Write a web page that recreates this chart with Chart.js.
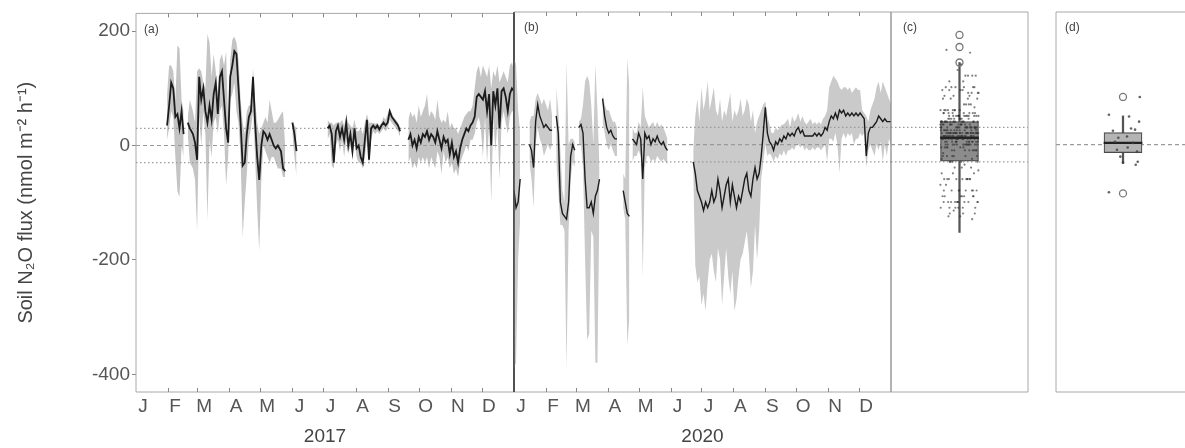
<!DOCTYPE html>
<html>
<head>
<meta charset="utf-8">
<script src="https://cdn.jsdelivr.net/npm/chart.js@4.4.1/dist/chart.umd.min.js"></script>
<style>
html, body { margin: 0; padding: 0; background: #fff; }
body { width: 1185px; height: 448px; position: relative; overflow: hidden; }
canvas { position: absolute; top: 0; }
</style>
</head>
<body>
<canvas id="chartA" width="530" height="448" style="left:0px"></canvas>
<canvas id="chartB" width="417" height="448" style="left:494px"></canvas>
<canvas id="chartC" width="177" height="448" style="left:871px"></canvas>
<canvas id="chartD" width="174" height="448" style="left:1036px"></canvas>
<script>
// axis labels
const months = ['J', 'F', 'M', 'A', 'M', 'J', 'J', 'A', 'S', 'O', 'N', 'D'];
const monthStart2017 = [0, 31, 59, 90, 120, 151, 181, 212, 243, 273, 304, 334];
const monthStart2020 = [0, 31, 60, 91, 121, 152, 182, 213, 244, 274, 305, 335];
const yTicks = [-400, -200, 0, 200];
const refLines = [-30, 0, 30];

// (a) 2017 daily flux: day of year, mean, lower and upper bound (null = no data)
const aDay = [
  30, 32, 34, 36, 38, 40, 42, 44, 46, 48,
  50, 52, 55, 57, 59, 61, 63, 65, 67, 69,
  71, 73, 75, 77, 79, 81, 83, 85, 87, 89,
  91, 93, 95, 97, 99, 101, 103, 105, 107, 109,
  111, 113, 115, 117, 119, 121, 123, 125, 127, 129,
  131, 133, 135, 137, 140, 142, 144, 147, 151, 153,
  155, 170, 185, 187, 189, 191, 193, 195, 197, 199,
  201, 203, 205, 207, 209, 211, 213, 215, 217, 219,
  221, 223, 225, 227, 229, 231, 233, 235, 237, 239,
  241, 243, 245, 247, 249, 251, 253, 255, 258, 263,
  265, 267, 269, 271, 273, 275, 277, 279, 281, 283,
  285, 287, 289, 291, 293, 295, 297, 299, 301, 303,
  305, 307, 309, 311, 313, 315, 317, 319, 321, 323,
  325, 327, 329, 331, 333, 335, 337, 339, 341, 343,
  345, 347, 349, 351, 353, 355, 357, 359, 361, 363,
  365
];
const aMean = [
  35, 70, 110, 100, 50, 55, 30, 60, 20, null,
  40, 30, 20, 5, -25, 120, 80, 100, 60, 40,
  70, 45, 90, 110, 55, 120, 130, 80, 30, 5,
  120, 140, 165, 160, 100, 40, -35, -30, 20, 50,
  60, 120, 40, -20, -60, 0, 25, 20, 10, 20,
  10, 0, -5, 0, -10, -40, -45, null, 40, 20,
  -10, null, 30, 35, 20, -30, 25, 35, 15, 30,
  10, 40, 0, 20, -10, 30, -5, 0, -20, -30,
  10, 45, -25, 30, 35, 30, 35, 28, 35, 40,
  35, 40, 60, 50, 45, 40, 35, 25, null, 10,
  20, 0, 10, -5, 15, 5, 20, 15, 25, 10,
  20, 15, 5, 25, 10, -5, 15, 5, 10, -15,
  5, -20, -10, -30, -5, 10, 20, 30, 25, 35,
  40, 50, 85, 90, 85, 80, 95, 60, 90, 0,
  95, 70, 100, 30, 95, 100, 85, 60, 90, 100,
  95
];
const aLo = [
  10, 30, 60, 50, -20, -80, -90, 0, -20, null,
  20, -30, -40, -60, -150, 50, 0, 60, 20, -130,
  10, -20, 40, 50, 20, 60, 70, 20, -70, -20,
  80, 90, 110, 60, 40, -20, -160, -100, -50, 10,
  30, 60, -20, -110, -185, -60, 0, -10, -20, -30,
  -20, -20, -30, -40, -40, -55, -55, null, 20, -20,
  -55, null, 10, 20, -35, -40, 0, 10, -10, 10,
  -20, 10, -15, 0, -20, 10, -20, -30, -30, -40,
  -20, 10, -35, 10, 25, 20, 25, 20, 25, 30,
  25, 30, 45, 40, 35, 30, 25, 15, null, -30,
  -20, -40, -30, -40, -20, -30, -20, -30, -20, -40,
  -20, -30, -40, -10, -20, -50, -10, -30, -20, -40,
  -30, -50, -40, -55, -30, -20, -10, 0, -10, 10,
  10, 20, 40, 50, 30, -20, 50, -30, 40, -100,
  50, -10, 40, -60, 40, 60, 40, 20, 50, 60,
  60
];
const aHi = [
  90, 140, 140, 130, 80, 175, 170, 80, 60, null,
  50, 80, 60, 40, 130, 135, 130, 110, 100, 195,
  180, 120, 160, 130, 90, 150, 160, 140, 165, 40,
  150, 185, 190, 180, 150, 80, 40, 20, 60, 70,
  70, 135, 80, 40, 20, 30, 40, 50, 40, 80,
  60, 40, 40, 45, 55, 60, 0, null, 45, 35,
  30, null, 45, 40, 40, 35, 40, 40, 40, 45,
  35, 50, 40, 35, 30, 45, 25, 25, 30, 20,
  40, 55, 40, 40, 40, 38, 40, 35, 40, 50,
  45, 55, 65, 55, 50, 45, 40, 30, null, 45,
  60, 50, 55, 40, 70, 50, 60, 70, 90, 50,
  60, 55, 45, 80, 50, 40, 45, 40, 60, 30,
  40, 30, 30, 20, 30, 40, 50, 55, 60, 60,
  70, 100, 130, 140, 120, 140, 130, 120, 140, 100,
  130, 120, 140, 110, 120, 130, 120, 110, 140, 145,
  130
];

// (b) 2020 daily flux
const bDay = [
  0, 2, 4, 6, 10, 15, 17, 19, 21, 23,
  25, 27, 29, 31, 33, 35, 37, 39, 41, 43,
  45, 47, 49, 51, 53, 55, 57, 59, 61, 63,
  65, 67, 69, 71, 73, 75, 77, 79, 81, 83,
  84.5, 86, 88, 90, 92, 94, 96, 98, 100, 103,
  106, 108, 110, 112, 113.5, 115, 117, 119, 121, 123,
  125, 127, 129, 131, 133, 135, 137, 139, 141, 143,
  145, 147, 149, 160, 174, 176, 178, 180, 182, 184,
  186, 188, 190, 192, 194, 196, 198, 200, 202, 204,
  206, 208, 210, 212, 214, 216, 218, 220, 222, 224,
  226, 228, 230, 232, 234, 236, 238, 240, 242, 244,
  246, 248, 250, 252, 254, 256, 258, 260, 262, 264,
  266, 268, 270, 272, 274, 276, 278, 280, 282, 284,
  286, 288, 290, 292, 294, 296, 298, 300, 302, 304,
  306, 308, 310, 312, 314, 316, 318, 320, 322, 324,
  326, 328, 330, 332, 334, 336, 338, 340, 342, 344,
  346, 348, 350, 352, 354, 356, 358, 360, 362, 364,
  366
];
const bMean = [
  -80, -110, -100, -60, null, 0, -10, -40, 40, 70,
  50, 40, 30, 35, 30, 25, 25, null, 50, 20,
  -100, -120, -125, -130, -100, -20, 0, -10, null, 30,
  35, 20, -60, -110, -110, -100, -120, -90, -80, -60,
  null, 80, 50, 30, 20, 25, 15, 10, 10, null,
  -80, -100, -120, -125, null, 10, 5, 0, 20, 10,
  -60, 20, 10, 15, 0, 10, 5, 15, 5, 0,
  5, -5, -10, null, -30, -50, -80, -90, -100, -115,
  -100, -110, -100, -80, -100, -90, -60, -80, -110, -90,
  -70, -60, -100, -70, -90, -110, -90, -100, -80, -60,
  -50, -80, -90, -60, -40, -60, -50, -20, 20, 65,
  20, 5, 0, -10, 5, 0, 10, 5, 15, 10,
  20, 15, 20, 15, 25, 30, 20, 25, 15, 15,
  15, 15, 15, 20, 15, 20, 15, 20, 30, 25,
  40, 50, 45, 55, 45, 60, 55, 60, 50, 55,
  50, 55, 50, 55, 50, 55, 50, 45, -20, 20,
  30, 30, 35, 40, 50, 45, 40, 45, 40, 40,
  40
];
const bLo = [
  -390, -380, -200, -130, null, -30, -60, -110, 0, 30,
  10, 0, -20, -10, 0, -10, 0, null, -30, -80,
  -140, -140, -150, -390, -150, -60, -30, -40, null, 0,
  0, -40, -200, -340, -330, -150, -160, -380, -380, -100,
  null, 40, 20, 0, -10, 0, -10, -20, -20, null,
  -110, -130, -350, -300, null, -30, -20, -20, -10, -20,
  -230, -40, -20, -20, -30, -25, -30, -20, -25, -30,
  -25, -30, -35, null, -50, -210, -240, -230, -280, -260,
  -290, -240, -200, -190, -220, -240, -180, -200, -280, -230,
  -180, -230, -260, -220, -290, -270, -230, -200, -190, -170,
  -150, -190, -250, -220, -140, -200, -150, -60, -30, 0,
  -20, -15, -20, -30, -20, -25, -15, -20, -10, -20,
  -10, -10, -5, -10, 0, 0, -5, 0, -10, -5,
  -10, -10, -5, -10, -5, -5, -10, -5, 0, -30,
  10, 10, 5, 20, 0, -50, 10, 20, 10, 20,
  15, 20, 0, 10, 10, 20, 15, 20, -40, -10,
  0, -10, -20, 0, -10, 5, -30, 0, -20, 10,
  0
];
const bHi = [
  150, 140, 60, 20, null, 40, 50, 50, 80, 90,
  80, 70, 80, 70, 60, 80, 50, null, 100, 60,
  -10, -80, -100, 145, 0, 10, 10, 5, null, 40,
  45, 70, 110, 120, 110, 70, 0, 140, 60, -40,
  null, 90, 70, 60, 60, 50, 40, 40, 30, null,
  -50, -60, 150, 100, null, 30, 20, 20, 40, 30,
  100, 50, 40, 30, 35, 40, 30, 40, 30, 35,
  30, 20, 10, null, -10, 50, 80, 40, 100, 60,
  80, 110, 60, 80, 100, 60, 50, 80, 40, 60,
  50, 70, 90, 40, 60, 50, 60, 80, 50, 60,
  80, 70, 40, 60, 20, 40, 50, 60, 70, 75,
  50, 35, 20, 20, 30, 25, 30, 35, 35, 40,
  45, 30, 50, 40, 45, 55, 40, 50, 40, 35,
  40, 45, 35, 40, 35, 40, 35, 45, 50, 60,
  100, 110, 120, 115, 110, 100, 95, 100, 100, 95,
  100, 90, 95, 100, 95, 95, 60, 55, 50, 40,
  60, 70, 80, 100, 110, 90, 110, 100, 90, 80,
  70
];

// (c) box summary of all fluxes: low whisker, q1, median, q3, high whisker, outliers
const cBox = [-153, -29, 12, 40, 143];
const cOutliers = [143, 170, 191];

// (d) box summary, its points (value, horizontal offset) and outliers
const dBox = [-33, -14, 3, 21, 50];
const dOutliers = [83, -85];
const dVals = [83, 52, 49, 40, 24, 28, 26, 14, 12, 5, 3, -5, -9, -12, -21, -31, -30, -35, -83];
const dJit = [0.25, -0.21, 0.09, 0.24, -0.15, 0.12, 0.18, 0.06, -0.07, -0.12, 0.15, 0.07, -0.09, 0.21, -0.04, 0, 0.22, 0.19, -0.21];

const yMin = -431, yMax = 231;
Chart.defaults.font.family = '"Liberation Sans", Arial, sans-serif';
Chart.defaults.animation = false;

const pts = (xs, ys) => xs.map((x, i) => ({ x: x, y: ys[i] }));

const framePlugin = {
  id: 'frame',
  afterDraw(chart, args, opts) {
    const { ctx, chartArea: a } = chart;
    const edges = {
      top: [a.left, a.top, a.right, a.top],
      bottom: [a.left, a.bottom, a.right, a.bottom],
      left: [a.left, a.top, a.left, a.bottom],
      right: [a.right, a.top, a.right, a.bottom]
    };
    ctx.save();
    Object.keys(edges).forEach(k => {
      const e = opts[k];
      if (!e) return;
      const p = edges[k];
      ctx.strokeStyle = e[0];
      ctx.lineWidth = e[1];
      ctx.beginPath();
      ctx.moveTo(p[0], p[1]);
      ctx.lineTo(p[2], p[3]);
      ctx.stroke();
    });
    // small inward month ticks
    if (opts.ticks) {
      ctx.strokeStyle = '#888';
      ctx.lineWidth = 1;
      opts.ticks.forEach(v => {
        const x = Math.round(chart.scales.x.getPixelForValue(v)) + 0.5;
        ctx.beginPath();
        ctx.moveTo(x, a.top); ctx.lineTo(x, a.top + 4);
        ctx.moveTo(x, a.bottom); ctx.lineTo(x, a.bottom - 4);
        ctx.stroke();
      });
    }
    // panel letter
    if (opts.label) {
      ctx.fillStyle = '#444';
      ctx.font = '12px "Liberation Sans", Arial, sans-serif';
      ctx.textBaseline = 'middle';
      ctx.fillText(opts.label, a.left + opts.lx, a.top + 16);
    }
    ctx.restore();
  }
};

function yScale(main) {
  const s = {
    min: yMin, max: yMax,
    display: main,
    afterBuildTicks: sc => { sc.ticks = yTicks.map(v => ({ value: v })); },
    grid: { drawOnChartArea: false, drawTicks: true, tickLength: 4, color: '#888' },
    border: { display: false },
    ticks: { font: { size: 19 }, color: '#555', padding: 2 }
  };
  if (main) {
    s.afterFit = sc => { sc.width = 136; };
    s.title = { display: true, text: 'Soil N₂O flux (nmol m⁻² h⁻¹)', font: { size: 20 }, color: '#444', padding: { top: 14 } };
  }
  return s;
}

function xScale(maxDay, starts, year) {
  return {
    type: 'linear', min: 0, max: maxDay,
    afterBuildTicks: sc => { sc.ticks = starts.map(v => ({ value: v })); },
    afterFit: sc => { sc.height = 56; },
    grid: { display: false, drawTicks: false },
    border: { display: false },
    ticks: {
      callback: (v, i) => months[i], autoSkip: false, maxRotation: 0,
      labelOffset: 7, padding: 3, font: { size: 19 }, color: '#555'
    },
    title: { display: true, text: year, font: { size: 19 }, color: '#444', padding: { top: 0, bottom: 0 } }
  };
}

function refSets(xmin, xmax, values) {
  return values.map(v => ({
    type: 'line',
    data: [{ x: xmin, y: v }, { x: xmax, y: v }],
    borderColor: '#9a9a9a',
    borderWidth: 1.2,
    borderDash: v === 0 ? [4, 3] : [1.5, 2.5],
    pointRadius: 0,
    order: 4
  }));
}

function seriesSets(days, mean, lo, hi, bandColor, lineWidth) {
  return [
    { data: pts(days, lo), borderWidth: 0, pointRadius: 0, fill: false, order: 6 },
    { data: pts(days, hi), borderWidth: 0, pointRadius: 0, fill: '-1', backgroundColor: bandColor, order: 5 },
    { data: pts(days, mean), borderColor: '#1c1c1c', borderWidth: lineWidth, pointRadius: 0, fill: false, order: 0 }
  ];
}

const baseOpts = {
  responsive: false,
  events: [],
  plugins: { legend: { display: false }, tooltip: { enabled: false } }
};

// panel (a)
new Chart(document.getElementById('chartA'), {
  type: 'line',
  data: { datasets: seriesSets(aDay, aMean, aLo, aHi, 'rgba(125,125,125,0.45)', 1.8).concat(refSets(0, 365, refLines)) },
  options: Object.assign({}, baseOpts, {
    layout: { padding: { left: 0, right: 16, top: 12, bottom: 0 } },
    scales: { x: xScale(365, monthStart2017, '2017'), y: yScale(true) },
    plugins: Object.assign({}, baseOpts.plugins, {
      frame: { top: ['#a8a8a8', 1], bottom: ['#a8a8a8', 1], left: ['#a8a8a8', 1], right: ['#4a4a4a', 1.6], ticks: monthStart2017.slice(1), label: '(a)', lx: 8 }
    })
  }),
  plugins: [framePlugin]
});

// panel (b)
new Chart(document.getElementById('chartB'), {
  type: 'line',
  data: { datasets: seriesSets(bDay, bMean, bLo, bHi, '#cacaca', 1.4).concat(refSets(0, 366, refLines)) },
  options: Object.assign({}, baseOpts, {
    layout: { padding: { left: 20, right: 20, top: 12, bottom: 0 } },
    scales: { x: xScale(366, monthStart2020, '2020'), y: yScale(false) },
    plugins: Object.assign({}, baseOpts.plugins, {
      frame: { top: ['#a8a8a8', 1], bottom: ['#a8a8a8', 1], left: ['#4a4a4a', 1.6], right: ['#808080', 1.2], ticks: monthStart2020.slice(1), label: '(b)', lx: 10 }
    })
  }),
  plugins: [framePlugin]
});

// box plot panels
function boxSets(box, fill, points, pointColor, pointRadius, outliers) {
  return [
    { type: 'bar', data: [{ x: 0, y: [box[0], box[4]] }], backgroundColor: '#555', barThickness: 1.6, grouped: false, order: 3 },
    { type: 'bar', data: [{ x: 0, y: [box[1], box[3]] }], backgroundColor: fill, borderColor: '#4a4a4a', borderWidth: 1.2, borderSkipped: false, barThickness: 38, grouped: false, order: 2 },
    { type: 'bar', data: [{ x: 0, y: [box[2] - 1.6, box[2] + 1.6] }], backgroundColor: '#222', barThickness: 38, grouped: false, order: 1 },
    { type: 'scatter', data: points, pointRadius: pointRadius, pointBackgroundColor: pointColor, pointBorderWidth: 0, order: 0 },
    { type: 'scatter', data: outliers.map(v => ({ x: 0, y: v })), pointRadius: 3.5, pointBackgroundColor: 'rgba(0,0,0,0)', pointBorderColor: '#777', pointBorderWidth: 1.3, order: 0 }
  ];
}

function boxScales() {
  return {
    x: { type: 'linear', min: -1, max: 1, display: false, offset: false },
    y: yScale(false)
  };
}

// (c) all flux values spread across the box width
const cVals = aMean.concat(bMean).filter(v => v !== null);
const cPoints = cVals.map((v, i) => ({ x: ((i * 0.618034) % 1 - 0.5) * 0.56, y: v }));

new Chart(document.getElementById('chartC'), {
  type: 'scatter',
  data: { datasets: boxSets(cBox, '#8c8c8c', cPoints, 'rgba(45,45,45,0.6)', 1.1, cOutliers).concat(refSets(-1, 1, refLines)) },
  options: Object.assign({}, baseOpts, {
    layout: { padding: { left: 20, right: 20, top: 12, bottom: 56 } },
    scales: boxScales(),
    plugins: Object.assign({}, baseOpts.plugins, {
      frame: { top: ['#a8a8a8', 1], bottom: ['#a8a8a8', 1], right: ['#a8a8a8', 1], label: '(c)', lx: 12 }
    })
  }),
  plugins: [framePlugin]
});

// (d)
new Chart(document.getElementById('chartD'), {
  type: 'scatter',
  data: { datasets: boxSets(dBox, '#b4b4b4', pts(dJit, dVals), 'rgba(60,60,60,0.8)', 1.3, dOutliers).concat(refSets(-1, 1, [0])) },
  options: Object.assign({}, baseOpts, {
    layout: { padding: { left: 20, right: 20, top: 12, bottom: 56 } },
    scales: boxScales(),
    plugins: Object.assign({}, baseOpts.plugins, {
      frame: { top: ['#a8a8a8', 1], bottom: ['#a8a8a8', 1], left: ['#a8a8a8', 1], right: ['#a8a8a8', 1], label: '(d)', lx: 9 }
    })
  }),
  plugins: [framePlugin]
});
</script>
</body>
</html>
